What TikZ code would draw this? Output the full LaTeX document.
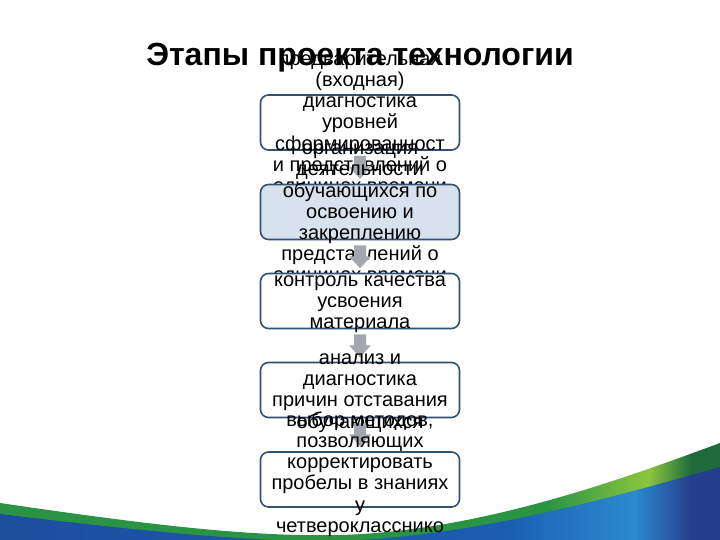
\documentclass[tikz,border=0pt]{standalone}
\usepackage{fontspec}
\setmainfont{Liberation Sans}
\usetikzlibrary{calc}
\definecolor{boxblue}{HTML}{34506F}
\definecolor{boxfill}{HTML}{D8E1EE}
\definecolor{arrowgray}{HTML}{A5A7B0}
\definecolor{gA}{HTML}{2A9444}
\definecolor{gB}{HTML}{8CC63F}
\definecolor{gC}{HTML}{1E6B3C}
\definecolor{bA}{HTML}{1D4E9E}
\definecolor{bB}{HTML}{1B5DB0}
\definecolor{bC}{HTML}{2B8AD0}
\definecolor{bD}{HTML}{24408C}
\pgfdeclarehorizontalshading{greenband}{100bp}{color(0bp)=(gA); color(25bp)=(gA); color(63bp)=(gA); color(70bp)=(gB); color(73bp)=(gC); color(75bp)=(gC); color(100bp)=(gC)}
\pgfdeclarehorizontalshading{blueband}{100bp}{color(0bp)=(bA); color(25bp)=(bA); color(60bp)=(bB); color(69bp)=(bC); color(73bp)=(bD); color(75bp)=(bD); color(100bp)=(bD)}
\begin{document}
\begin{tikzpicture}[x=1pt,y=-1pt,
  stagebox/.style={draw=boxblue, line width=1.6pt, rounded corners=8pt, fill=white,
    minimum width=199pt, minimum height=55pt, inner sep=0pt},
  stagetext/.style={font=\fontsize{20}{21.2}\selectfont, align=center, text=black, inner sep=0pt, yshift=-3pt},
  flowarrow/.style={fill=arrowgray, draw=none},
  titletext/.style={font=\bfseries\fontsize{32}{32}\selectfont, text=black, inner sep=0pt}]
\useasboundingbox (0,0) rectangle (720,540);
\fill[white] (0,0) rectangle (720,540);
% bottom wave
\begin{scope}
\clip (0,0) rectangle (720,540);
\shade[shading=greenband] (0,503) .. controls (150,525) and (250,537) .. (340,535)
  .. controls (480,531) and (620,480) .. (720,443) -- (720,550) -- (0,550) -- cycle;
\shade[shading=blueband] (0,514) .. controls (150,532) and (250,542) .. (340,541)
  .. controls (480,536) and (620,495) .. (720,467) -- (720,550) -- (0,550) -- cycle;
\end{scope}
% title
\node[titletext, anchor=base] (title) at (360,66) {Этапы проекта технологии};
% stage 1
\node[stagebox] (b1) at (360,122.5) {};
\node[stagetext] (t1) at (b1.center) {предварительная\\(входная)\\диагностика\\уровней\\сформированност\\и представлений о\\единицах времени};
\fill[flowarrow] ($(b1.south)+(-6,5)$) -- ($(b1.south)+(6,5)$) -- ($(b1.south)+(6,16)$)
  -- ($(b1.south)+(11,16)$) -- ($(b1.south)+(0,28)$) -- ($(b1.south)+(-11,16)$) -- ($(b1.south)+(-6,16)$) -- cycle;
% stage 2
\node[stagebox, fill=boxfill] (b2) at (360,212) {};
\node[stagetext] (t2) at (b2.center) {организация\\деятельности\\обучающихся по\\освоению и\\закреплению\\представлений о\\единицах времени};
\fill[flowarrow] ($(b2.south)+(-6,5)$) -- ($(b2.south)+(6,5)$) -- ($(b2.south)+(6,16)$)
  -- ($(b2.south)+(11,16)$) -- ($(b2.south)+(0,28)$) -- ($(b2.south)+(-11,16)$) -- ($(b2.south)+(-6,16)$) -- cycle;
% stage 3
\node[stagebox] (b3) at (360,301) {};
\node[stagetext] (t3) at (b3.center) {контроль качества\\усвоения\\материала};
\fill[flowarrow] ($(b3.south)+(-6,5)$) -- ($(b3.south)+(6,5)$) -- ($(b3.south)+(6,16)$)
  -- ($(b3.south)+(11,16)$) -- ($(b3.south)+(0,28)$) -- ($(b3.south)+(-11,16)$) -- ($(b3.south)+(-6,16)$) -- cycle;
% stage 4
\node[stagebox] (b4) at (360,390) {};
\node[stagetext] (t4) at (b4.center) {анализ и\\диагностика\\причин отставания\\обучающихся};
\fill[flowarrow] ($(b4.south)+(-6,5)$) -- ($(b4.south)+(6,5)$) -- ($(b4.south)+(6,16)$)
  -- ($(b4.south)+(11,16)$) -- ($(b4.south)+(0,28)$) -- ($(b4.south)+(-11,16)$) -- ($(b4.south)+(-6,16)$) -- cycle;
% stage 5
\node[stagebox] (b5) at (360,479.5) {};
\node[stagetext] (t5) at (b5.center) {выбор методов,\\позволяющих\\корректировать\\пробелы в знаниях\\у\\четверокласснико\\в};
\end{tikzpicture}
\end{document}
